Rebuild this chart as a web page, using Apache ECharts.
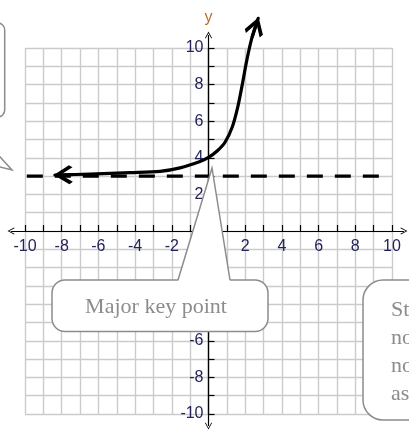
<!DOCTYPE html>
<html>
<head>
<meta charset="utf-8">
<script src="https://cdn.jsdelivr.net/npm/echarts@6/dist/echarts.min.js"></script>
<style>
  html, body { margin: 0; padding: 0; background: #fff; }
  #main { width: 409px; height: 434px; }
</style>
</head>
<body>
<div id="main"></div>
<script>
// labelled ticks (0 is left blank)
var xTicks = [-10, -8, -6, -4, -2, 2, 4, 6, 8, 10];
var yTicks = [-10, -8, -6, -4, -2, 2, 4, 6, 8, 10];

var curveX = [-8.37, -6.46, -4.28, -2.64, -1.55, -0.46, 0, 0.5, 0.9, 1.3, 1.6, 1.84, 2.08, 2.35, 2.71];
var curveY = [3.06, 3.11, 3.19, 3.26, 3.45, 3.8, 4.02, 4.4, 4.85, 5.7, 6.8, 8.0, 9.3, 10.5, 11.62];

// dashed asymptote y = 3
var asymX = [-9.9, 9.3];
var asymY = [3, 3];

// axis line ends (they run a little past the grid)
var axisXEnds = [-10.76, 10.65];
var axisYEnds = [-10.66, 10.71];

var W = 409, H = 434;
var G = { left: 25, right: 17, top: 48, bottom: 20 };
var chevronBig = 'path://M50,0L100,62L88,76L50,28L12,76L0,62Z';
var chevronSmall = 'path://M50,0L100,80L91,86L50,20L9,86L0,80Z';
var grey = '#8c8c8c';
var labelColor = '#23235a';
var labelFont = 'Liberation Sans, Arial, sans-serif';

function pairs(xs, ys) {
    return xs.map(function (x, i) { return [x, ys[i]]; });
}

// short segment ending at the curve tip, so the arrow symbol points along the curve
function headSegment(i, j) {
    var tx = curveX[i], ty = curveY[i];
    var dx = tx - curveX[j], dy = ty - curveY[j];
    var len = Math.sqrt(dx * dx + dy * dy);
    dx /= len; dy /= len;
    return { coords: [[tx - dx * 1.1, ty - dy * 1.1], [tx - dx * 0.45, ty - dy * 0.45]] };
}

function callout(box, r, tip, b0, b1) {
    return [
        { type: 'rect', z: 100, shape: { x: box[0], y: box[1], width: box[2], height: box[3], r: r },
          style: { fill: '#fff', stroke: grey, lineWidth: 1.5 } },
        { type: 'polygon', z: 101, shape: { points: [[b0[0], b0[1] + 1.5], tip, [b1[0], b1[1] + 1.5]] },
          style: { fill: '#fff' } },
        { type: 'polyline', z: 102, shape: { points: [b0, tip, b1] },
          style: { stroke: grey, lineWidth: 1.5, fill: null } }
    ];
}

// axes cross at the middle of the grid (both run -10..10)
var gridW = W - G.left - G.right, gridH = H - G.top - G.bottom;
var xOffset = -gridH / 2, yOffset = -gridW / 2;

var myChart = echarts.init(document.getElementById('main'));

var graphics = []
    .concat(callout([-100, 23, 104.7, 94], 7, [12, 170], [-200, 116], [-37, 116]))
    .concat(callout([52, 280, 216, 51.5], 13, [212, 168], [178, 280], [230, 280]))
    .concat(callout([363, 280, 120, 140], 20, [420, 350], [430, 300], [430, 310]));
graphics.push({
    type: 'text', z: 103, x: 156, y: 307,
    style: { text: 'Major key point', font: '22px "Liberation Serif", "Times New Roman", serif',
             fill: grey, align: 'center', verticalAlign: 'middle' }
});
graphics.push({
    type: 'text', z: 103, x: 391, y: 296,
    style: { text: 'Straight\nnot a\nnot the\nasymptote', font: '22px "Liberation Serif", "Times New Roman", serif',
             lineHeight: 28, fill: grey, align: 'left', verticalAlign: 'top' }
});

var option = {
    animation: false,
    grid: G,
    xAxis: {
        type: 'value', min: -10, max: 10, interval: 1,
        position: 'bottom', offset: xOffset,
        axisLine: { onZero: false, lineStyle: { color: '#000', width: 1.2 } },
        axisTick: { inside: true, length: 6, lineStyle: { color: '#000', width: 1.2 } },
        axisLabel: {
            margin: 8, color: labelColor, fontSize: 16, fontFamily: labelFont,
            formatter: function (v) { return xTicks.indexOf(v) >= 0 ? String(v) : ''; }
        },
        splitLine: { lineStyle: { color: '#cbcbcb', width: 1.4 } }
    },
    yAxis: {
        type: 'value', min: -10, max: 10, interval: 1,
        position: 'left', offset: yOffset,
        name: 'y', nameLocation: 'end', nameGap: 22,
        nameTextStyle: { color: '#b8702a', fontSize: 16, fontFamily: labelFont },
        axisLine: { onZero: false, lineStyle: { color: '#000', width: 1.2 } },
        axisTick: { inside: true, length: 6, lineStyle: { color: '#000', width: 1.2 } },
        axisLabel: {
            margin: 5, color: labelColor, fontSize: 16, fontFamily: labelFont,
            formatter: function (v) { return yTicks.indexOf(v) >= 0 ? String(v) : ''; }
        },
        splitLine: { lineStyle: { color: '#cbcbcb', width: 1.4 } }
    },
    series: [
        {
            // axis lines with open arrow tips
            type: 'lines', coordinateSystem: 'cartesian2d', clip: false, silent: true, z: 3,
            symbol: [chevronSmall, chevronSmall], symbolSize: 7,
            lineStyle: { color: '#000', width: 1.2, opacity: 1 },
            data: [
                { coords: [[axisXEnds[0], 0], [axisXEnds[1], 0]] },
                { coords: [[0, axisYEnds[0]], [0, axisYEnds[1]]] }
            ]
        },
        {
            type: 'line', name: 'asymptote', clip: false, silent: true, z: 4,
            showSymbol: false, symbol: 'none',
            lineStyle: { color: '#000', width: 3.3, type: [16, 12] },
            data: pairs(asymX, asymY)
        },
        {
            type: 'line', name: 'curve', clip: false, silent: true, z: 5,
            showSymbol: false, symbol: 'none', smooth: 0.3,
            lineStyle: { color: '#000', width: 3.2, cap: 'round', join: 'round' },
            data: pairs(curveX, curveY)
        },
        {
            // arrow heads at both ends of the curve
            type: 'lines', coordinateSystem: 'cartesian2d', clip: false, silent: true, z: 6,
            symbol: ['none', chevronBig], symbolSize: 19,
            lineStyle: { color: '#000', width: 3.2, opacity: 1 },
            data: [headSegment(0, 1), headSegment(curveX.length - 1, curveX.length - 2)]
        }
    ],
    graphic: graphics
};

myChart.setOption(option);
</script>
</body>
</html>
